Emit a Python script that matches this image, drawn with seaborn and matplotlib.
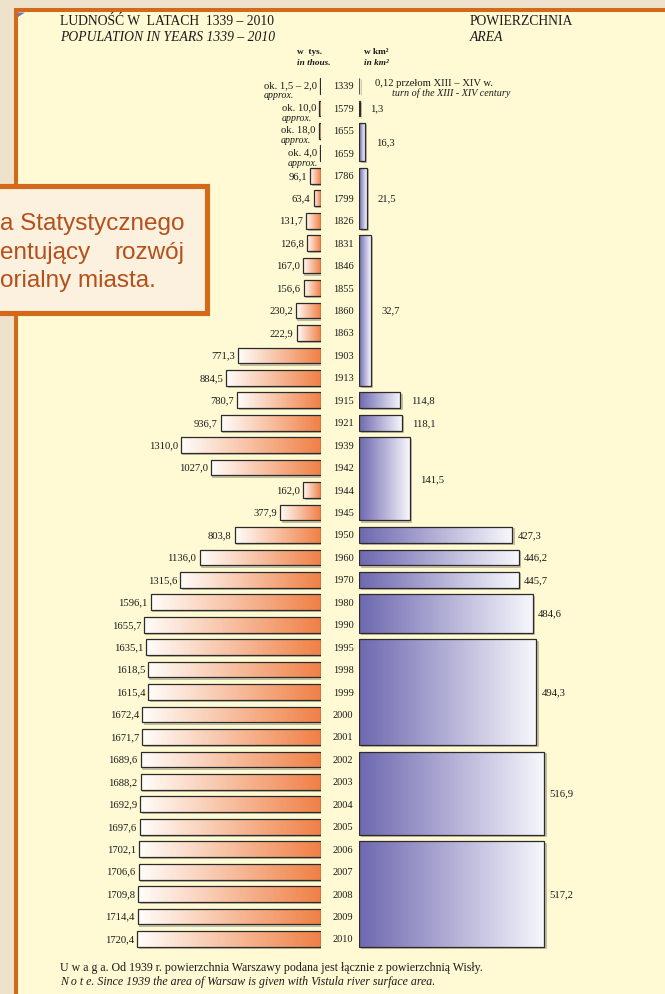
import numpy as np
import pandas as pd
import matplotlib
matplotlib.use("Agg")
import matplotlib.pyplot as plt
import matplotlib.transforms as mtransforms
from matplotlib.patches import Rectangle, Polygon
import seaborn as sns

# ---------------- data ----------------
years = ["1339", "1579", "1655", "1659", "1786", "1799", "1826", "1831", "1846",
         "1855", "1860", "1863", "1903", "1913", "1915", "1921", "1939", "1942",
         "1944", "1945", "1950", "1960", "1970", "1980", "1990", "1995", "1998",
         "1999", "2000", "2001", "2002", "2003", "2004", "2005", "2006", "2007",
         "2008", "2009", "2010"]
population = [1.75, 10.0, 18.0, 4.0, 96.1, 63.4, 131.7, 126.8, 167.0,
              156.6, 230.2, 222.9, 771.3, 884.5, 780.7, 936.7, 1310.0, 1027.0,
              162.0, 377.9, 803.8, 1136.0, 1315.6, 1596.1, 1655.7, 1635.1, 1618.5,
              1615.4, 1672.4, 1671.7, 1689.6, 1688.2, 1692.9, 1697.6, 1702.1, 1706.6,
              1709.8, 1714.4, 1720.4]
approx_labels = {"1339": "ok. 1,5 \u2013 2,0", "1579": "ok. 10,0",
                 "1655": "ok. 18,0", "1659": "ok. 4,0"}

area_first = ["1339", "1579", "1655", "1786", "1831", "1915", "1921", "1939",
              "1950", "1960", "1970", "1980", "1995", "2002", "2006"]
area_last = ["1339", "1579", "1659", "1826", "1913", "1915", "1921", "1945",
             "1950", "1960", "1970", "1990", "2001", "2005", "2010"]
area_values = [0.12, 1.3, 16.3, 21.5, 32.7, 114.8, 118.1, 141.5,
               427.3, 446.2, 445.7, 484.6, 494.3, 516.9, 517.2]
area_labels = ["0,12", "1,3", "16,3", "21,5", "32,7", "114,8", "118,1", "141,5",
               "427,3", "446,2", "445,7", "484,6", "494,3", "516,9", "517,2"]


def fmt(v):
    return f"{v:.1f}".replace(".", ",")


# ---------------- layout helpers ----------------
W, H = 665, 995
fig = plt.figure(figsize=(W / 100, H / 100), dpi=100)
fig.patch.set_facecolor("#EEE2CD")


def fx(px):
    return px / W


def fy(py):
    return 1 - py / H


SERIF = "Liberation Serif"
SANS = "Liberation Sans"
PANEL = "#FFFAD4"
FRAME = "#D36A1A"
EDGE = "#2b2b2b"
INK = "#1a1a1a"
POP_DARK = np.array([240, 128, 70]) / 255
POP_LIGHT = np.array([255, 253, 250]) / 255
AREA_DARK = np.array([110, 104, 176]) / 255
AREA_LIGHT = np.array([247, 247, 252]) / 255

# panel with orange frame
fig.add_artist(Rectangle((fx(16), fy(1020)), fx(720) - fx(16), fy(11.3) - fy(1020),
                         transform=fig.transFigure, facecolor=PANEL, edgecolor=FRAME,
                         linewidth=2.9, zorder=-5))
fig.add_artist(Polygon([(fx(18), fy(13.5)), (fx(25), fy(13.5)), (fx(18), fy(18))],
                       closed=True, transform=fig.transFigure, facecolor="#7b72b8",
                       edgecolor="none", zorder=-4))

row_top_px, row_bot_px = 87, 940
n = len(years)
step = (row_bot_px - row_top_px) / (n - 1)
ax_top, ax_bot = 60, 960
ylim = (n - 1 + (ax_bot - row_bot_px) / step, -(row_top_px - ax_top) / step)

pop_left, pop_right = 60, 320.5
pop_scale = 0.1065  # px per thousand
ax_pop = fig.add_axes([fx(pop_left), fy(ax_bot), fx(pop_right) - fx(pop_left),
                       (ax_bot - ax_top) / H])
area_left, area_right = 359.3, 640
area_scale = 0.358  # px per km2
ax_area = fig.add_axes([fx(area_left), fy(ax_bot), fx(area_right) - fx(area_left),
                        (ax_bot - ax_top) / H])

df = pd.DataFrame({"year": years, "population": population})
sns.barplot(data=df, x="population", y="year", orient="h", width=0.7,
            color=POP_DARK, saturation=1, edgecolor=EDGE, linewidth=0.9, ax=ax_pop)


def gradient(c_from, c_to):
    t = np.linspace(0, 1, 256)[None, :, None]
    return np.repeat(c_from[None, None, :] * (1 - t) + c_to[None, None, :] * t, 2, axis=0)


grad_pop = gradient(POP_DARK, POP_LIGHT)
grad_area = gradient(AREA_DARK, AREA_LIGHT)


def decorate(ax, patch, grad):
    x0, y0 = patch.get_x(), patch.get_y()
    w, h = patch.get_width(), patch.get_height()
    im = ax.imshow(grad, extent=(x0, x0 + w, y0 + h, y0), aspect="auto",
                   interpolation="bilinear", zorder=2)
    im.set_clip_path(patch)
    patch.set_facecolor("none")
    patch.set_zorder(3)
    shadow_tr = ax.transData + mtransforms.ScaledTranslation(1.3 / 100, -1.3 / 100,
                                                             fig.dpi_scale_trans)
    ax.add_patch(Rectangle((x0, y0), w, h, transform=shadow_tr, facecolor="#8a8470",
                           edgecolor="#8a8470", linewidth=0.6, alpha=0.45, zorder=1))


for p in list(ax_pop.patches):
    decorate(ax_pop, p, grad_pop)

# area bars spanning the rows they apply to
idx = {y: i for i, y in enumerate(years)}
for first, last, v in zip(area_first, area_last, area_values):
    a, b = idx[first], idx[last]
    bars = ax_area.barh((a + b) / 2, v, height=(b - a) + 0.7, color=AREA_DARK,
                        edgecolor="#5a5a5a" if v < 1 else EDGE, linewidth=0.9)
    decorate(ax_area, bars.patches[0], grad_area)

ax_pop.set_xlim((pop_right - pop_left) / pop_scale, 0)
ax_area.set_xlim(0, (area_right - area_left) / area_scale)
for ax in (ax_pop, ax_area):
    ax.set_ylim(*ylim)
    ax.axis("off")

# ---------------- labels ----------------
NUM = dict(family=SERIF, fontsize=7.7, color=INK)
ok_texts = []
for i, (yr, v) in enumerate(zip(years, population)):
    if yr in approx_labels:
        t = ax_pop.annotate(approx_labels[yr], xy=(v, i), xytext=(-2.3, 1.2),
                            textcoords="offset points", ha="right", va="center", **NUM)
        ok_texts.append(t)
    else:
        ax_pop.annotate(fmt(v), xy=(v, i), xytext=(-2.3, 0.3), textcoords="offset points",
                        ha="right", va="center", **NUM)

year_tr = mtransforms.blended_transform_factory(fig.transFigure, ax_pop.transData)
for i, yr in enumerate(years):
    ax_pop.text(fx(343.3), i, yr, transform=year_tr, ha="center", va="center",
                family=SERIF, fontsize=7.5, color=INK)

for k, (first, last, v, lab) in enumerate(zip(area_first, area_last, area_values,
                                              area_labels)):
    a, b = idx[first], idx[last]
    c = (a + b) / 2
    if k == 0:
        ax_area.annotate(lab + " przełom XIII \u2013 XIV w.", xy=(v, c), xytext=(11, 2.6),
                         textcoords="offset points", ha="left", va="center", **NUM)
        ax_area.annotate("turn of the XIII - XIV century", xy=(v, c), xytext=(23.5, -4.2),
                         textcoords="offset points", ha="left", va="center",
                         style="italic", family=SERIF, fontsize=7.3, color=INK)
        continue
    off_px = 5 if v > 300 else 10.5
    ax_area.annotate(lab, xy=(v, c), xytext=(off_px / 1.389, 0.3),
                     textcoords="offset points", ha="left", va="center", **NUM)

# headings
fig.text(fx(60), fy(21.5), "LUDNOŚĆ W  LATACH  1339 \u2013 2010", family=SERIF,
         fontsize=9.8, va="center", color=INK)
fig.text(fx(60), fy(37.5), "POPULATION IN YEARS 1339 \u2013 2010", family=SERIF,
         fontsize=9.8, style="italic", va="center", color=INK)
fig.text(fx(470), fy(21.5), "POWIERZCHNIA", family=SERIF, fontsize=9.8, va="center",
         color=INK)
fig.text(fx(470), fy(37.5), "AREA", family=SERIF, fontsize=9.8, style="italic",
         va="center", color=INK)
fig.text(fx(297), fy(52.3), "w  tys.", family=SERIF, fontsize=6.7, weight="bold",
         va="center", color=INK)
fig.text(fx(297), fy(63.3), "in thous.", family=SERIF, fontsize=6.7, weight="bold",
         style="italic", va="center", color=INK)
fig.text(fx(363.5), fy(52.3), "w km\u00b2", family=SERIF, fontsize=6.7, weight="bold",
         va="center", color=INK)
fig.text(fx(363.5), fy(63.3), "in km\u00b2", family=SERIF, fontsize=6.7, weight="bold",
         style="italic", va="center", color=INK)

# footer note
fig.text(fx(60), fy(968), "U w a g a. Od 1939 r. powierzchnia Warszawy podana jest "
         "łącznie z powierzchnią Wisły.", family=SERIF, fontsize=8.6, va="center",
         color=INK)
fig.text(fx(60), fy(982.5), "N o t e. Since 1939 the area of Warsaw is given with "
         "Vistula river surface area.", family=SERIF, fontsize=8.6, style="italic",
         va="center", color=INK)

# overlapping callout box
fig.add_artist(Rectangle((fx(-10), fy(314.2)), fx(206.6) - fx(-10), (314.2 - 186.7) / H,
                         transform=fig.transFigure, facecolor="#FCF0DE", edgecolor=FRAME,
                         linewidth=3.7, zorder=10))
CALL = dict(family=SANS, fontsize=17.5, color="#B5501A", zorder=11, va="baseline")
fig.text(fx(0), fy(230), "a Statystycznego", ha="left", **CALL)
fig.text(fx(0), fy(258.5), "entujący", ha="left", **CALL)
fig.text(fx(184), fy(258.5), "rozwój", ha="right", **CALL)
fig.text(fx(0), fy(287), "orialny miasta.", ha="left", **CALL)

# "approx." under the approximate values, aligned with their start
fig.canvas.draw()
renderer = fig.canvas.get_renderer()
for t in ok_texts:
    bb = t.get_window_extent(renderer)
    fig.text(bb.x0 / W, ((bb.y0 + bb.y1) / 2 - 10.5) / H, "approx.", family=SERIF,
             fontsize=7.1, style="italic", va="center", color=INK)

fig.savefig("out.png", dpi=100, facecolor=fig.get_facecolor())
